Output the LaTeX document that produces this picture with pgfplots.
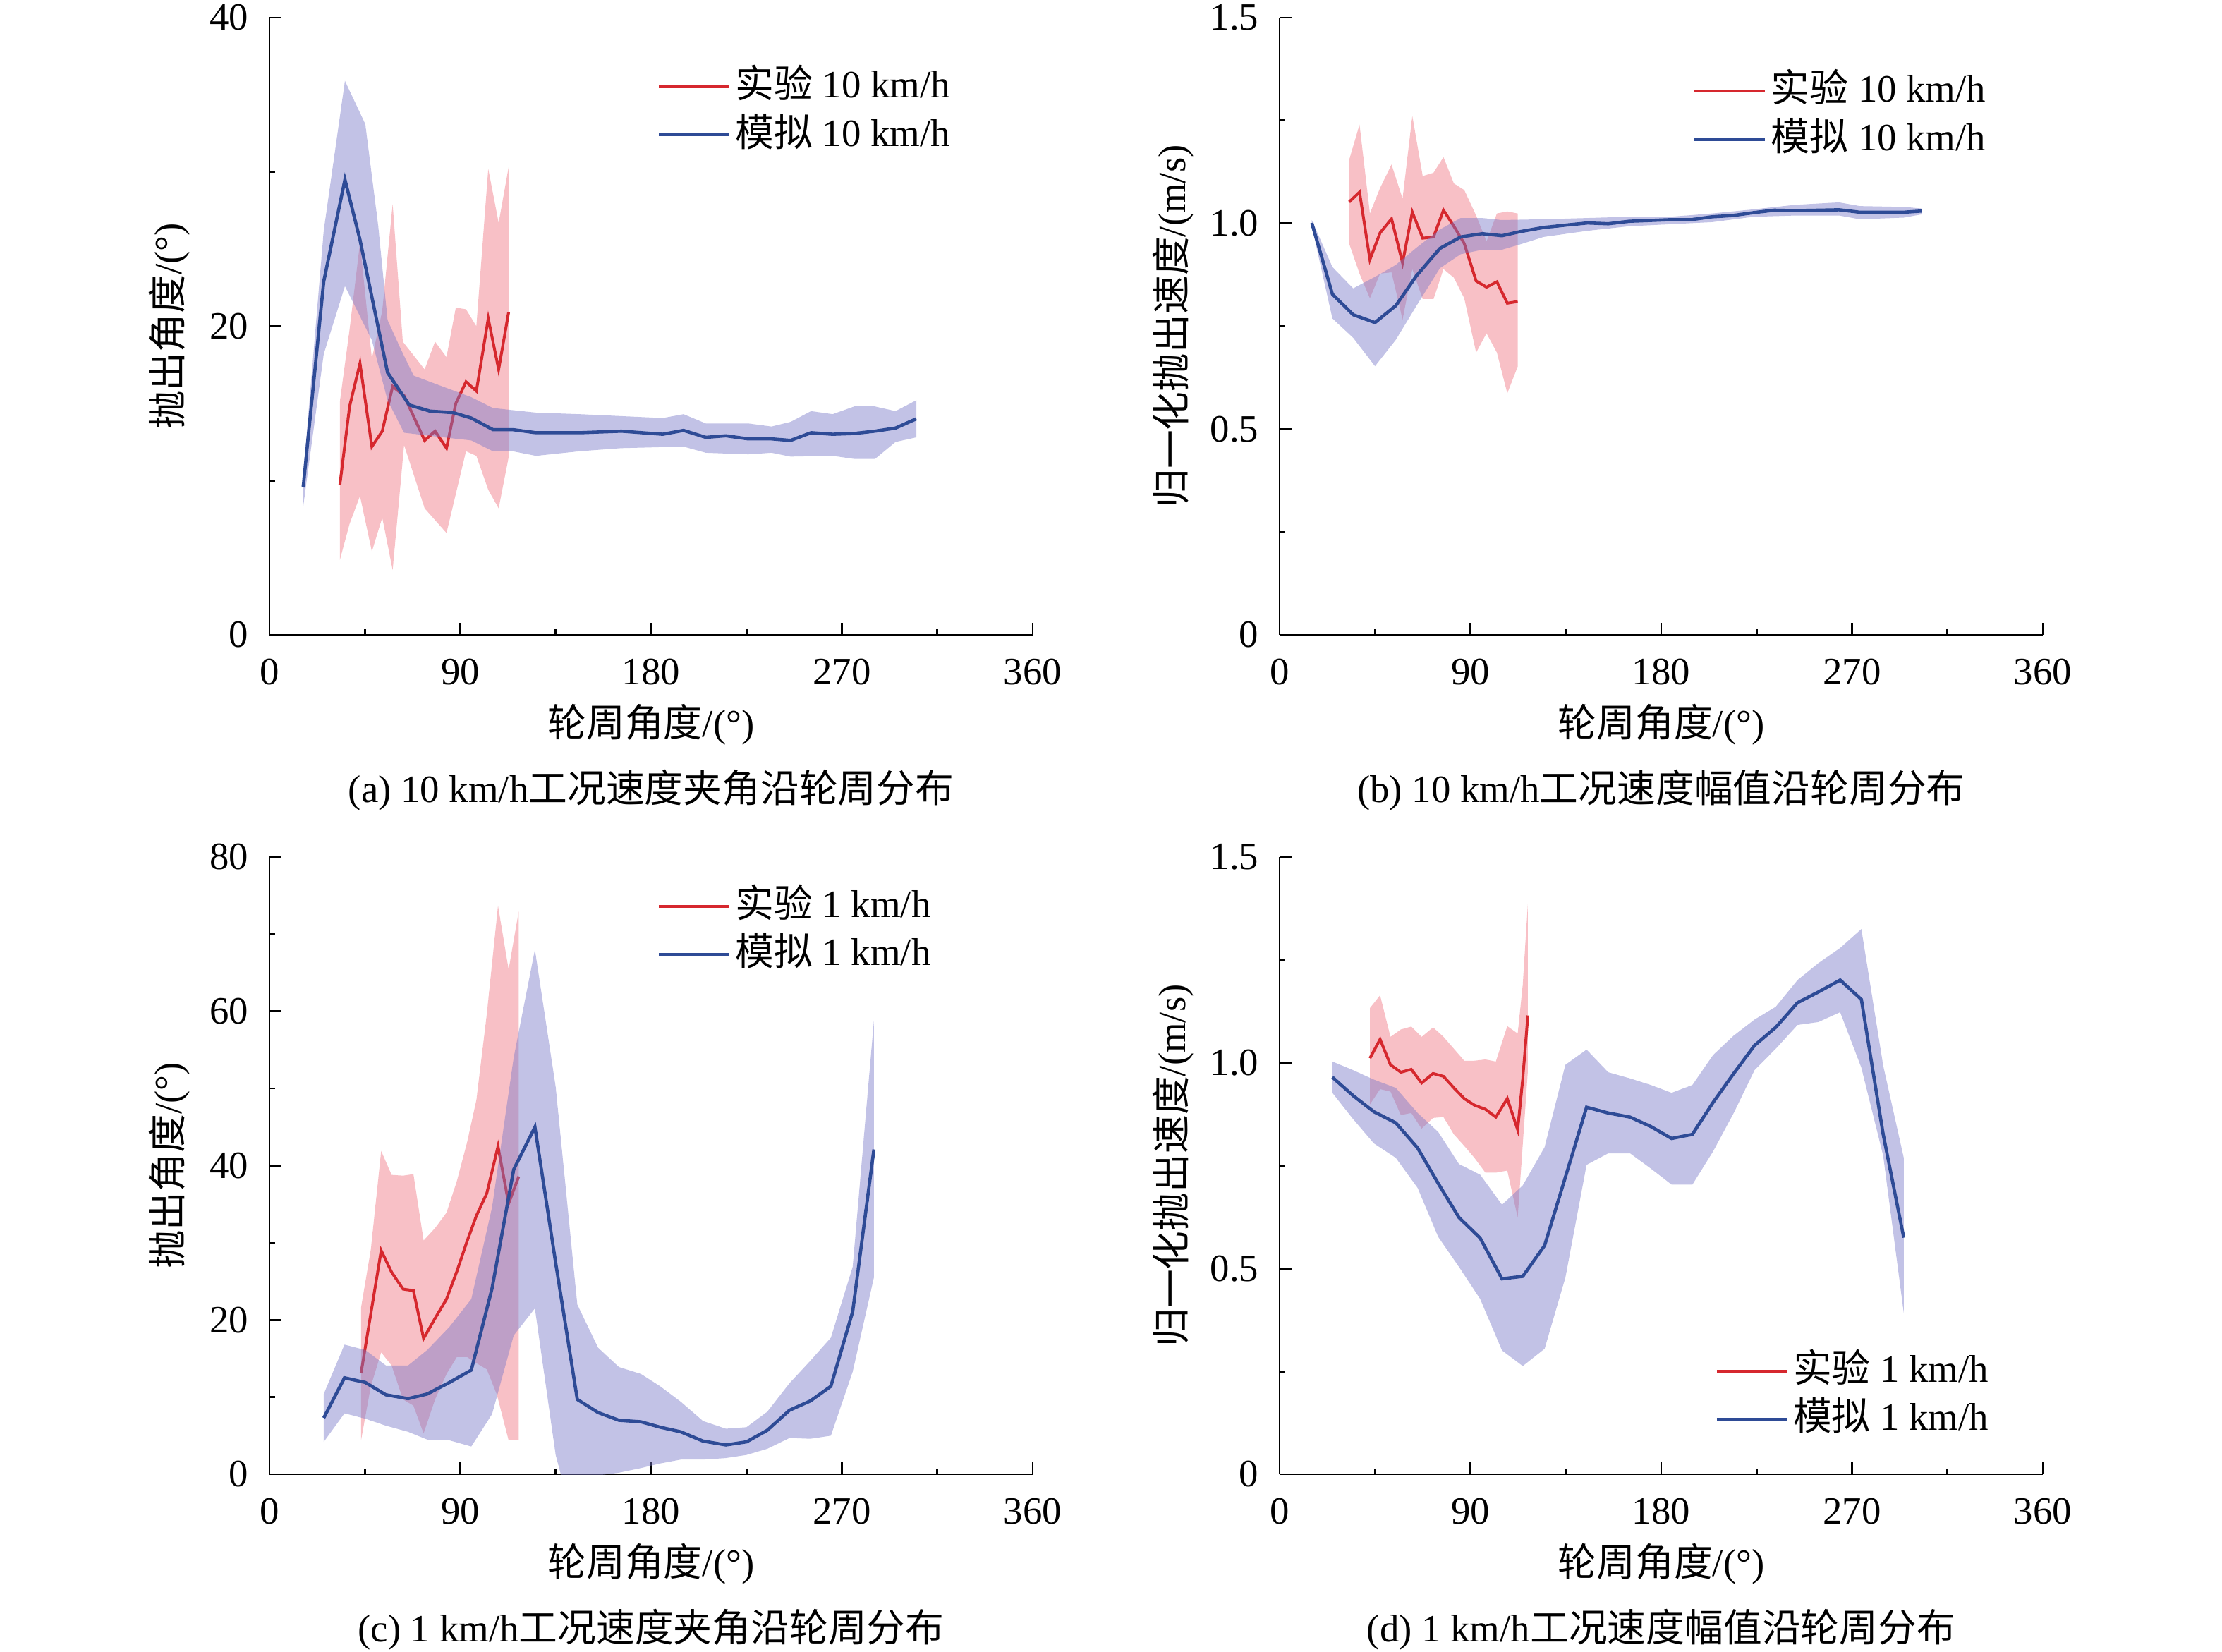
\documentclass[border=0pt]{standalone}
\usepackage{pgfplots}
\pgfplotsset{compat=1.18}
\usepackage{fontspec}
\setmainfont{Liberation Serif}
\newfontfamily\cjk{Noto Sans CJK SC}
\definecolor{redL}{RGB}{214,40,46}
\definecolor{blueL}{RGB}{46,75,150}
\definecolor{redB}{RGB}{232,58,78}
\definecolor{blueB}{RGB}{120,120,200}
\pgfplotsset{
  myax/.style={
    scale only axis, width=270.5pt, height=218.75pt,
    xmin=0, xmax=360,
    axis x line*=bottom, axis y line*=left,
    axis line style={line width=0.67pt,-},
    every tick/.style={line width=0.67pt, black},
    major tick length=4.2pt, minor tick length=2.1pt,
    tick align=inside,
    xtick={0,90,180,270,360}, minor xtick={45,135,225,315},
    xticklabels={0,90,180,270,360},
    /pgf/number format/assume math mode=true,
    ticklabel style={inner sep=0pt},
    xticklabel style={yshift=-8.25pt},
    yticklabel style={xshift=-7.25pt},
    xlabel={{\cjk 轮周角度}/(°)},
    xlabel style={at={(axis description cs:0.5,-0.1451)}, anchor=center},
    title style={at={(axis description cs:0.5,-0.2788)}, anchor=center, yshift=0pt},
    legend cell align=left,
    legend image code/.code={\draw[##1] (0pt,0pt) -- (25pt,0pt);},
    legend style={draw=none, fill=none, inner sep=0pt, anchor=west,
      column sep=1.5pt, row sep=3.1pt,
      nodes={inner sep=0pt, text height=11pt, text depth=3pt}},
  },
  angax/.style={ylabel={{\cjk 抛出角度}/(°)},
    ylabel style={at={(axis description cs:-0.1312,0.5)}, anchor=center}},
  velax/.style={ymin=0, ymax=1.5, ytick={0,0.5,1.0,1.5}, minor ytick={0.25,0.75,1.25},
    yticklabels={0,0.5,1.0,1.5},
    ylabel={{\cjk 归一化抛出速度}/(m/s)},
    ylabel style={at={(axis description cs:-0.139,0.5)}, anchor=center}},
  rband/.style={fill=redB, fill opacity=0.32, draw=none, forget plot},
  bband/.style={fill=blueB, fill opacity=0.45, draw=none, forget plot},
  rline/.style={redL, line width=1pt},
  bline/.style={blueL, line width=1.15pt},
}
\begin{document}\fontsize{13.7pt}{16pt}\selectfont
\begin{tikzpicture}
\path[use as bounding box] (0pt,0pt) rectangle (787.5pt,-585.5pt);
% ---------------- (a)
\begin{axis}[myax, angax, at={(95.5pt,-225pt)}, anchor=south west,
  ymin=0, ymax=40, ytick={0,20,40}, minor ytick={10,30}, yticklabels={0,20,40},
  title={(a) 10 km/h{\cjk 工况速度夹角沿轮周分布}},
  legend style={at={(axis description cs:0.5074,0.8493)}}]
\addplot[rband] coordinates {(33.2,15.1)(37.8,19.8)(42.7,25.4)(48.3,17.9)(53.2,21)(58.1,27.9)(62.9,19.0)(73.2,17.2)(78.1,19.0)(83.5,18.0)(87.9,21.2)(92.7,21.1)(97.6,20.0)(103.2,30.2)(108.1,26.7)(112.8,30.3)
 (112.8,11.5)(108.1,8.2)(103.2,9.4)(97.6,11.6)(92.7,11.9)(83.5,6.6)(73.2,8.2)(63.5,12.3)(58.1,4.2)(53.2,7.6)(48.3,5.4)(42.7,9.0)(37.8,7.2)(33.2,4.85)} -- cycle;
\addplot[rline] coordinates {(33.2,9.7)(37.8,14.8)(42.7,17.6)(48.3,12.2)(53.2,13.2)(58.1,16.1)(63.5,15.5)(73.2,12.6)(78.1,13.2)(83.5,12.1)(87.9,15.0)(92.7,16.4)(97.6,15.8)(103.2,20.5)(108.1,17.2)(112.8,20.9)};
\addplot[bband] coordinates {(15.9,10.3)(25.6,26.2)(35.6,35.9)(45.2,33.1)(51.3,26.5)(55.7,20.4)(62,18.5)(68,16.8)(75.7,16.4)(95.2,15.4)(105.4,14.7)(125.7,14.4)(146.4,14.3)(185.5,14.05)(195.3,14.3)(205.8,13.7)(225.8,13.7)(236.8,13.5)(245.8,13.8)(255.5,14.5)(265.6,14.3)(275.8,14.8)(285.6,14.8)(295.3,14.5)(305.1,15.2)
 (305.1,12.8)(295.3,12.5)(285.6,11.4)(275.8,11.4)(265.6,11.6)(245.8,11.55)(236.8,11.8)(225.8,11.7)(205.8,11.8)(195.3,12.2)(166,12.1)(146.4,11.9)(125.7,11.6)(114.7,11.9)(105.4,11.9)(95.2,12.6)(75.7,12.9)(63.5,13.1)(55.7,15.2)(48.3,19.1)(35.6,22.6)(25.6,18.2)(15.9,8.3)} -- cycle;
\addplot[bline] coordinates {(15.9,9.56)(25.6,22.9)(35.6,29.5)(42.7,25.6)(55.7,17.0)(65.9,14.9)(75.7,14.5)(86.6,14.4)(95.2,14.05)(105.4,13.3)(114.7,13.3)(125.7,13.1)(146.4,13.1)(166,13.2)(185.5,13.0)(195.3,13.25)(205.8,12.8)(215.3,12.9)(225.8,12.7)(236.8,12.7)(245.8,12.6)(255.5,13.1)(265.6,13.0)(275.8,13.05)(285.6,13.2)(295.3,13.4)(305.1,14.0)};
\legend{{\cjk 实验} 10 km/h, {\cjk 模拟} 10 km/h}
\end{axis}
% ---------------- (b)
\begin{axis}[myax, velax, at={(453.5pt,-225pt)}, anchor=south west,
  title={(b) 10 km/h{\cjk 工况速度幅值沿轮周分布}},
  legend style={at={(axis description cs:0.541,0.8422)}}]
\addplot[rband] coordinates {(32.8,1.154)(37.7,1.240)(42.6,1.024)(47.4,1.086)(52.8,1.143)(58.0,1.060)(62.6,1.261)(67.5,1.115)(72.6,1.123)(77.3,1.161)(82.2,1.097)(87.1,1.081)(92.7,1.019)(97.6,0.956)(102.5,1.024)(107.4,1.029)(112.3,1.024)
 (112.3,0.652)(107.4,0.587)(102.5,0.686)(97.6,0.733)(92.7,0.686)(87.1,0.818)(82.2,0.868)(77.3,0.889)(72.6,0.816)(67.5,0.816)(62.6,0.889)(58.0,0.766)(52.8,0.881)(47.4,0.878)(42.6,0.818)(37.7,0.878)(32.8,0.951)} -- cycle;
\addplot[rline] coordinates {(32.8,1.052)(37.7,1.076)(42.6,0.912)(47.4,0.977)(52.8,1.011)(58.0,0.904)(62.6,1.027)(67.5,0.964)(72.6,0.967)(77.3,1.032)(82.2,0.993)(87.1,0.951)(92.7,0.860)(97.6,0.845)(102.5,0.858)(107.4,0.806)(112.3,0.810)};
\addplot[bband] coordinates {(15.2,1.008)(24.9,0.894)(34.7,0.842)(45.0,0.870)(54.8,0.899)(64.6,0.941)(75.6,0.985)(85.4,1.013)(95.6,1.013)(104.9,1.008)(124.5,1.010)(145.3,1.013)(164.8,1.016)(184.4,1.016)(204,1.024)(223.5,1.034)(243.1,1.045)(263.9,1.051)(273.7,1.042)(294.4,1.040)(303,1.036)
 (303,1.022)(294.4,1.014)(273.7,1.010)(263.9,1.019)(243.1,1.019)(223.5,1.016)(204,1.003)(184.4,0.998)(164.8,0.993)(145.3,0.982)(124.5,0.967)(113.5,0.949)(104.9,0.936)(95.6,0.936)(85.4,0.925)(75.6,0.891)(64.6,0.800)(54.8,0.717)(45.0,0.653)(34.7,0.722)(24.9,0.769)(15.2,0.993)} -- cycle;
\addplot[bline] coordinates {(15.2,1.001)(24.9,0.828)(34.7,0.778)(45.0,0.759)(54.8,0.800)(64.6,0.873)(75.6,0.939)(85.4,0.967)(95.6,0.975)(104.9,0.970)(113.5,0.980)(124.5,0.990)(135.5,0.996)(145.3,1.001)(155.0,0.999)(164.8,1.005)(174.6,1.007)(184.4,1.009)(194.2,1.009)(204.0,1.016)(213.7,1.019)(223.5,1.026)(233.3,1.032)(243.1,1.031)(254.1,1.032)(263.9,1.033)(273.7,1.027)(284.7,1.027)(294.4,1.027)(303.0,1.030)};
\legend{{\cjk 实验} 10 km/h, {\cjk 模拟} 10 km/h}
\end{axis}
% ---------------- (c)
\begin{axis}[myax, angax, at={(95.5pt,-522.5pt)}, anchor=south west,
  ymin=0, ymax=80, ytick={0,20,40,60,80}, minor ytick={10,30,50,70}, yticklabels={0,20,40,60,80},
  title={(c) 1 km/h{\cjk 工况速度夹角沿轮周分布}},
  legend style={at={(axis description cs:0.5074,0.8814)}}]
\addplot[rband] coordinates {(43.2,21.6)(47.8,29.1)(52.7,41.9)(57.6,38.8)(63.0,38.7)(67.9,38.9)(72.7,30.3)(78.1,31.9)(83.5,33.9)(88.4,38.0)(93.2,43.0)(97.6,48.5)(102.5,59.6)(107.8,73.7)(112.8,65.4)(117.6,73.0)
 (117.6,4.4)(112.8,4.4)(107.3,10.3)(102.5,13.6)(97.6,14.4)(93.2,15.2)(88.4,15.2)(83.5,13.0)(78.1,9.7)(72.7,5.3)(67.9,8.9)(63.0,9.7)(57.6,14.1)(52.7,15.8)(47.8,11.4)(43.2,4.4)} -- cycle;
\addplot[rline] coordinates {(43.2,13.1)(47.8,20.8)(52.7,29.0)(57.6,26.2)(63.0,24.0)(67.9,23.8)(72.7,17.6)(78.1,20.2)(83.5,22.7)(88.4,26.3)(93.2,30.2)(97.6,33.5)(102.5,36.4)(107.8,42.5)(112.8,35.1)(117.6,38.6)};
\addplot[bband] coordinates {(25.6,10.4)(35.4,16.8)(45.2,16.1)(54.9,14.1)(65.4,14.1)(74.4,16.1)(84.9,19.1)(95.2,22.7)(105.0,34.6)(115.2,54.0)(125.2,68.0)(135.0,50.2)(145.2,22.0)(155.0,16.4)(164.8,13.9)(175.2,13.0)(184.3,11.4)(194.0,9.4)(204.5,6.9)(215.3,5.9)(225.0,6.1)(234.8,8.1)(245.3,11.8)(255.1,14.7)(264.8,17.7)(275.1,26.9)(285.1,58.8)
 (285.1,25.5)(275.1,13.3)(264.8,5.0)(255.1,4.6)(245.3,4.7)(234.8,3.3)(225.0,2.5)(215.3,2.1)(204.5,1.9)(194.0,1.9)(184.3,1.4)(175.2,0.8)(164.8,0.2)(145.2,-0.5)(137.9,-0.5)(135.0,2.5)(125.2,21.5)(115.2,18.0)(105.0,7.8)(95.2,3.6)(84.9,4.4)(74.4,4.5)(65.4,5.5)(54.9,6.3)(45.2,7.2)(35.4,7.9)(25.6,4.2)} -- cycle;
\addplot[bline] coordinates {(25.6,7.3)(35.4,12.5)(45.2,11.9)(54.9,10.3)(65.4,9.8)(74.4,10.4)(84.9,11.9)(95.2,13.5)(105.0,24.1)(115.2,39.5)(125.2,45.0)(135.0,27.4)(145.2,9.7)(155.0,8.0)(164.8,7.0)(175.2,6.8)(184.3,6.1)(194.0,5.5)(204.5,4.3)(215.3,3.8)(225.0,4.2)(234.8,5.7)(245.3,8.3)(255.1,9.5)(264.8,11.4)(275.1,21.1)(285.1,42.1)};
\legend{{\cjk 实验} 1 km/h, {\cjk 模拟} 1 km/h}
\end{axis}
% ---------------- (d)
\begin{axis}[myax, velax, at={(453.5pt,-522.5pt)}, anchor=south west,
  title={(d) 1 km/h{\cjk 工况速度幅值沿轮周分布}},
  legend style={at={(axis description cs:0.570,0.1283)}}]
\addplot[rband] coordinates {(42.6,1.133)(47.4,1.164)(52.3,1.063)(57.2,1.081)(62.1,1.088)(67.0,1.063)(72.4,1.086)(77.3,1.063)(82.2,1.034)(87.1,1.005)(91.9,1.005)(97.1,1.008)(102.0,1.003)(107.4,1.089)(112.3,1.071)(114.7,1.190)(117.1,1.386)
 (117.1,0.98)(112.3,0.624)(107.4,0.738)(102.0,0.733)(97.1,0.733)(91.9,0.769)(87.1,0.798)(82.2,0.826)(77.3,0.868)(72.4,0.866)(67.0,0.840)(62.1,0.878)(57.2,0.873)(52.3,0.930)(47.4,0.936)(42.6,0.899)} -- cycle;
\addplot[rline] coordinates {(42.6,1.011)(47.4,1.057)(52.3,0.995)(57.2,0.977)(62.1,0.984)(67.0,0.951)(72.4,0.974)(77.3,0.967)(82.2,0.939)(87.1,0.913)(91.9,0.897)(97.1,0.887)(102.0,0.868)(107.4,0.913)(112.3,0.837)(114.7,0.962)(117.1,1.115)};
\addplot[bband] coordinates {(24.9,1.003)(34.7,0.982)(44.5,0.959)(54.8,0.939)(65.1,0.878)(74.8,0.832)(84.6,0.754)(94.6,0.728)(104.9,0.655)(114.7,0.702)(125.0,0.795)(134.8,0.995)(144.8,1.032)(155.0,0.977)(165.3,0.962)(175.1,0.946)(184.9,0.927)(194.7,0.946)(204.5,1.019)(214.2,1.066)(224.0,1.105)(234.0,1.136)(244.3,1.201)(254.1,1.242)(264.4,1.279)(274.4,1.325)(284.7,0.993)(294.4,0.769)
 (294.4,0.392)(284.7,0.774)(274.4,0.988)(264.4,1.123)(254.1,1.099)(244.3,1.092)(234.0,1.034)(224.0,0.982)(214.2,0.878)(204.5,0.785)(194.7,0.704)(184.9,0.704)(175.1,0.743)(165.3,0.780)(155.0,0.780)(144.8,0.752)(134.8,0.478)(125.0,0.305)(114.7,0.263)(104.9,0.301)(94.6,0.426)(84.6,0.504)(74.8,0.577)(65.1,0.696)(54.8,0.769)(44.5,0.804)(34.7,0.863)(24.9,0.927)} -- cycle;
\addplot[bline] coordinates {(24.9,0.965)(34.7,0.920)(44.5,0.881)(54.8,0.854)(65.1,0.793)(74.8,0.707)(84.6,0.624)(94.6,0.574)(104.9,0.475)(114.7,0.481)(125.0,0.556)(134.8,0.722)(144.8,0.892)(155.0,0.878)(165.3,0.868)(175.1,0.845)(184.9,0.816)(194.7,0.826)(204.5,0.904)(214.2,0.974)(224.0,1.042)(234.0,1.086)(244.3,1.146)(254.1,1.172)(264.4,1.201)(274.4,1.154)(284.7,0.826)(294.4,0.575)};
\legend{{\cjk 实验} 1 km/h, {\cjk 模拟} 1 km/h}
\end{axis}
\end{tikzpicture}
\end{document}
